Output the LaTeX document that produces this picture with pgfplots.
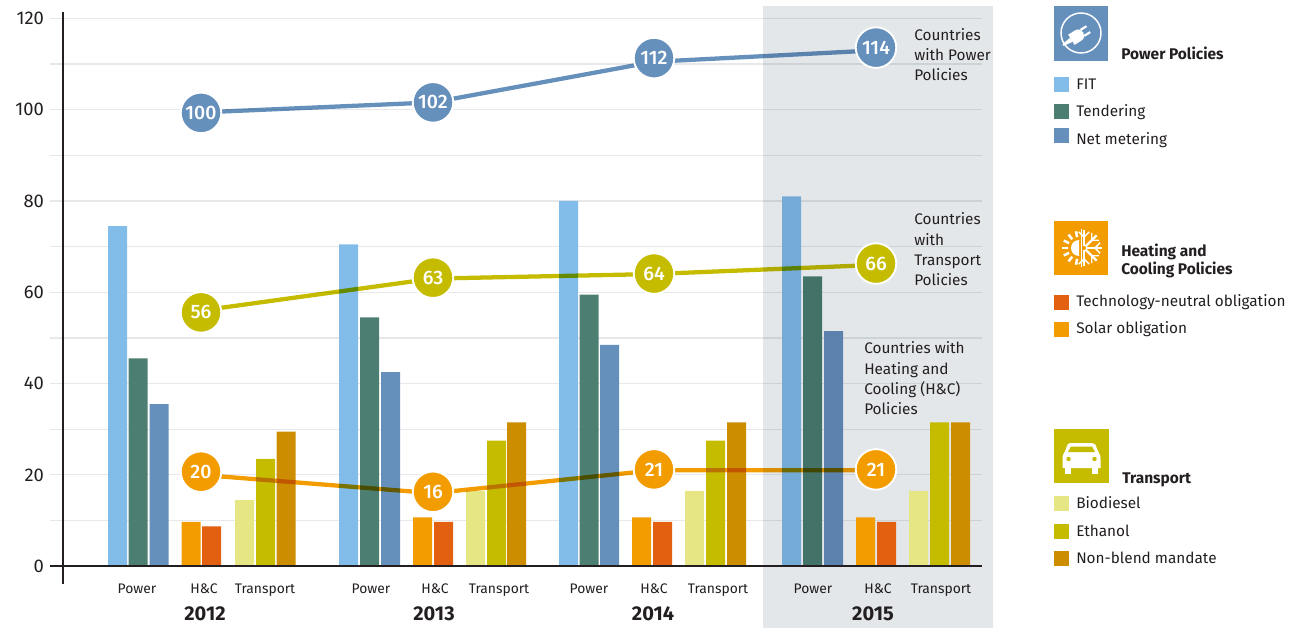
\documentclass[border=0pt]{standalone}
\usepackage{fontspec}
\setmainfont{Fira Sans}
\newfontfamily\medf{Fira Sans Medium}
\usepackage{pgfplots}
\pgfplotsset{compat=1.18}
\usetikzlibrary{calc}
\definecolor{cfit}{HTML}{82BDEA}
\definecolor{cten}{HTML}{4C7F72}
\definecolor{cnet}{HTML}{6690BC}
\definecolor{csol}{HTML}{F39C00}
\definecolor{ctech}{HTML}{E2600F}
\definecolor{cbio}{HTML}{E6E685}
\definecolor{ceth}{HTML}{C5BC00}
\definecolor{cnon}{HTML}{CC8E00}
\definecolor{cpanel}{HTML}{E4E7EA}
\definecolor{cgrid}{HTML}{E6E8EA}
\definecolor{ctxt}{HTML}{231F20}
\pgfplotsset{
  bar/.style={ybar,bar width=14.25pt,bar shift=0pt,draw=none,fill=#1},
  trend/.style={color=#1,line width=3.2pt,no markers,blend mode=multiply},
  bubble/.style={only marks,mark=*,mark size=15.2pt,
    mark options={fill=#1,draw=white,line width=1.4pt},
    point meta=explicit symbolic,nodes near coords,
    every node near coord/.append style={anchor=center,yshift=0pt,text=white,font=\fontsize{14.6}{16}\medf}},
}
\begin{document}
\begin{tikzpicture}
\useasboundingbox (0,0) rectangle (972.75pt,-471pt);
\begin{axis}[
  at={(37.5pt,-438pt)},anchor=south west,scale only axis,
  width=699pt,height=429pt,
  xmin=50,xmax=982,ymin=-3.9,ymax=121.4,clip=false,
  axis line style={draw=none},
  tick style={draw=none},
  ytick={0,20,...,120},
  minor ytick={10,30,...,110},
  ymajorgrids,yminorgrids,
  major grid style={draw=cgrid,line width=0.9pt},
  minor grid style={draw=cgrid,line width=0.9pt},
  yticklabel style={font=\fontsize{13.8}{15}\selectfont,text=ctxt,xshift=-1pt},
  /pgf/number format/assume math mode=true,
  xtick={137,204,265,371,435,499,589,654,718,813,878,941},
  xticklabels={Power,H\&C,Transport,Power,H\&C,Transport,Power,H\&C,Transport,Power,H\&C,Transport},
  xticklabel style={font=\fontsize{10.4}{12}\selectfont,text=ctxt,yshift=3.8pt},
]
% power bars
\addplot[bar=cfit] coordinates {(117.5,74.5)(348.5,70.5)(568.5,80)(791.5,81)};
\addplot[bar=cten] coordinates {(138,45.5)(369.5,54.5)(589,59.5)(812.5,63.5)};
\addplot[bar=cnet] coordinates {(159,35.5)(390.5,42.5)(609.5,48.5)(833.5,51.5)};
% shaded 2015 panel
\fill[cpanel,blend mode=multiply] (axis cs:763,122.7) rectangle (axis cs:993,-13.5);
% other bars
\addplot[bar=csol] coordinates {(191,9.7)(422.5,10.7)(641.5,10.7)(865.5,10.7)};
\addplot[bar=ctech] coordinates {(211.5,8.7)(443.5,9.7)(662.5,9.7)(886.5,9.7)};
\addplot[bar=cbio] coordinates {(244.5,14.5)(475.5,16.5)(694.5,16.5)(918.5,16.5)};
\addplot[bar=ceth] coordinates {(265.5,23.5)(496.5,27.5)(715.5,27.5)(939.5,31.5)};
\addplot[bar=cnon] coordinates {(286,29.5)(516.5,31.5)(736.5,31.5)(960.5,31.5)};
% axis lines
\draw[ctxt,line width=1.5pt] (axis cs:50,0) -- (axis cs:982,0);
\draw[ctxt,line width=1.5pt] (axis cs:63,-3.9) -- (axis cs:63,121.4);
% trend lines
\addplot[trend=cnet] coordinates {(201,99.4)(433,101.6)(654,110.5)(876,113)};
\addplot[trend=ceth] coordinates {(201,56)(433,63)(654,64)(876,66)};
\addplot[trend=csol] coordinates {(201,20)(433,16)(654,21)(876,21)};
% bubbles
\addplot[bubble=cnet] coordinates {(201,99.3)[100] (433,101.6)[102] (654,111.3)[112] (876,113.6)[114]};
\addplot[bubble=ceth] coordinates {(201,55.6)[56] (433,63.2)[63] (654,64.1)[64] (876,66.3)[66]};
\addplot[bubble=csol] coordinates {(201,20.7)[20] (433,16.3)[16] (654,21.2)[21] (876,21.2)[21]};
\end{axis}
\begin{scope}[x=0.75pt,y=-0.75pt,text=ctxt]
\tikzset{
  yr/.style={font=\fontsize{15}{16}\selectfont\bfseries},
  ann/.style={anchor=west,inner sep=0pt,text height=8pt,text depth=0pt,font=\fontsize{11.5}{13}\selectfont},
  leg/.style={ann},
  hd/.style={anchor=west,inner sep=0pt,text height=8pt,text depth=0pt,font=\fontsize{11.6}{13}\selectfont\bfseries},
}
% years
\node[yr] at (205,614) {2012};
\node[yr] at (434,614) {2013};
\node[yr] at (653,614) {2014};
\node[yr] at (873,614) {2015};
% annotations
\node[ann] at (914,35) {Countries};
\node[ann] at (914,55) {with Power};
\node[ann] at (914,75) {Policies};
\node[ann] at (914,219) {Countries};
\node[ann] at (914,240) {with};
\node[ann] at (914,260) {Transport};
\node[ann] at (914,280) {Policies};
\node[ann] at (864,348) {Countries with};
\node[ann] at (864,369) {Heating and};
\node[ann] at (864,389) {Cooling (H\&C)};
\node[ann] at (864,409) {Policies};
% legend: power
\fill[cnet] (1053.5,6) rectangle (1108,60.5);
\draw[white,line width=1.1pt] (1081,33) circle (20);
\begin{scope}[shift={(1079,35)},rotate=32]
  \fill[white] (-9,-6) -- (-1,-6) .. controls (3,-6) and (5,-3) .. (5,0) .. controls (5,3) and (3,6) .. (-1,6) -- (-9,6) -- cycle;
  \fill[white] (4,-4.6) rectangle (11,-2.4);
  \fill[white] (4,2.4) rectangle (11,4.6);
  \fill[white] (-9,-2.4) -- (-19,-1) -- (-19,1) -- (-9,2.4) -- cycle;
\end{scope}
\node[hd] at (1121,54) {Power Policies};
\fill[cfit] (1054,77) rectangle (1069,92);
\node[leg] at (1076,84) {FIT};
\fill[cten] (1054,104) rectangle (1069,118.5);
\node[leg] at (1076,111) {Tendering};
\fill[cnet] (1054,128) rectangle (1069,143);
\node[leg] at (1076,139) {Net metering};
% legend: heating
\fill[csol] (1054,221) rectangle (1108,275);
\fill[white] (1079,240) arc (270:90:8) -- cycle;
\foreach \a in {100,128,154,180,206,232,260}
  \draw[white,line width=1.9pt] ($(1079,248)+(\a:11)$) -- ($(1079,248)+(\a:17)$);
\draw[white,line width=1.3pt] (1081.5,229) -- (1081.5,267);
\foreach \a in {-90,-45,0,45,90} {
  \draw[white,line width=1.7pt] ($(1084,248)+(\a:2)$) -- ($(1084,248)+(\a:18)$);
  \draw[white,line width=1.1pt] ($(1084,248)+(\a:11)$) -- ($(1084,248)+(\a+18:17)$);
  \draw[white,line width=1.1pt] ($(1084,248)+(\a:11)$) -- ($(1084,248)+(\a-18:17)$);
}
\node[hd] at (1121,251) {Heating and};
\node[hd] at (1121,269) {Cooling Policies};
\fill[ctech] (1054,295) rectangle (1069,309.5);
\node[leg] at (1076,301) {Technology-neutral obligation};
\fill[csol] (1054,322) rectangle (1069,336.5);
\node[leg] at (1076,328) {Solar obligation};
% legend: transport
\fill[ceth] (1054,429) rectangle (1108.5,483);
\fill[white] (1070,443) -- (1092,443) .. controls (1095,443) and (1096,445) .. (1097,449)
  -- (1099,453) .. controls (1100.5,455) and (1100.5,457) .. (1100.5,459) -- (1100.5,468) -- (1062.5,468) -- (1062.5,459)
  .. controls (1062.5,457) and (1062.5,455) .. (1064,453) -- (1066,449) .. controls (1067,445) and (1068,443) .. (1070,443) -- cycle;
\fill[white] (1065,466) rectangle (1071,473.5);
\fill[white] (1092,466) rectangle (1098,473.5);
\fill[ceth] (1071,446.5) -- (1092,446.5) -- (1095,452) -- (1068,452) -- cycle;
\fill[ceth] (1068.5,459) circle (2.2);
\fill[ceth] (1094.5,459) circle (2.2);
\node[hd] at (1122,478) {Transport};
\fill[cbio] (1054,496) rectangle (1069,511);
\node[leg] at (1076,503) {Biodiesel};
\fill[ceth] (1054,523.5) rectangle (1069,538.5);
\node[leg] at (1076,531) {Ethanol};
\fill[cnon] (1054,551) rectangle (1069,566);
\node[leg] at (1076,558) {Non-blend mandate};
\end{scope}
\end{tikzpicture}
\end{document}
